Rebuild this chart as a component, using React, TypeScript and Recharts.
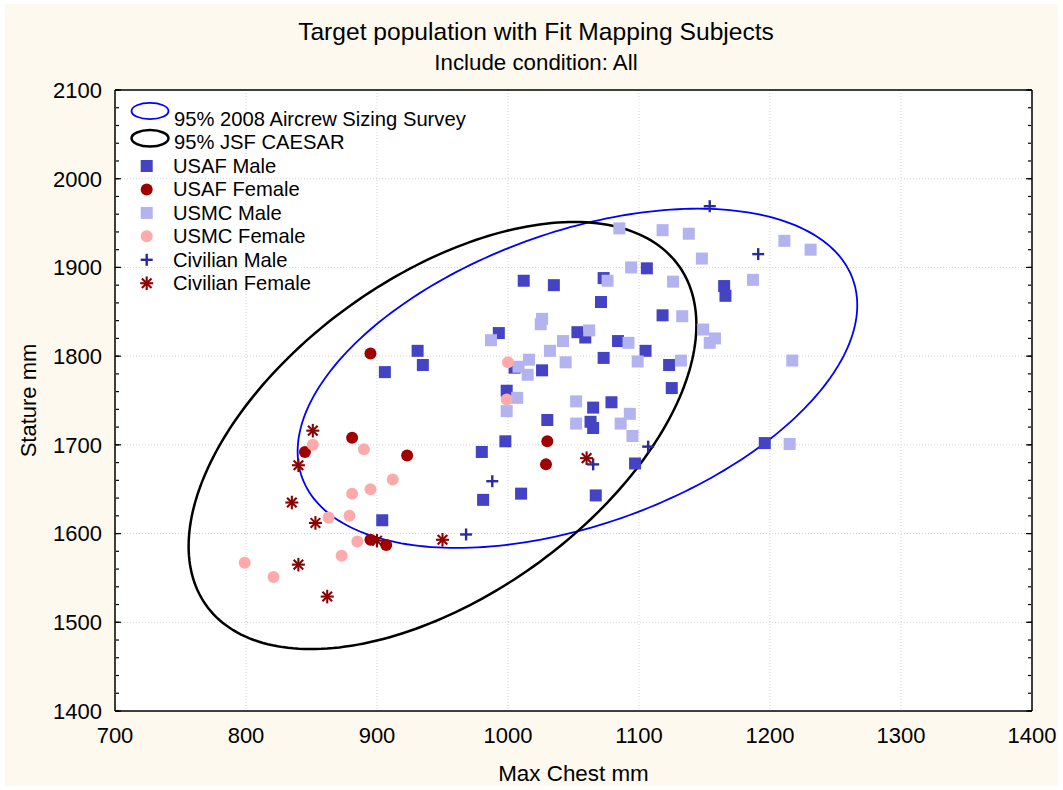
import React from 'react';
import { ComposedChart, Scatter, XAxis, YAxis, CartesianGrid } from 'recharts';

const FONT = '"Liberation Sans", Arial, Helvetica, sans-serif';

// Axis ticks
const xTicks = [700, 800, 900, 1000, 1100, 1200, 1300, 1400];
const yTicks = [1400, 1500, 1600, 1700, 1800, 1900, 2000, 2100];
const xMinorStep = 20;
const yMinorStep = 20;

// Subjects: [max chest mm, stature mm]
const usafMale: [number, number][] = [
  [931, 1806], [935, 1790], [906, 1782], [904, 1615], [993, 1826], [1012, 1885],
  [1035, 1880], [1073, 1888], [1071, 1861], [1106, 1899], [1118, 1846], [1165, 1879],
  [1166, 1868], [1053, 1827], [1059, 1821], [1084, 1817], [1105, 1806], [1073, 1798],
  [1123, 1790], [1125, 1764], [1026, 1784], [1005, 1787], [999, 1761], [1065, 1742],
  [1079, 1748], [1030, 1728], [1063, 1726], [1065, 1719], [998, 1704], [980, 1692],
  [1097, 1679], [1196, 1702], [1010, 1645], [981, 1638], [1067, 1643],
];

const usafFemale: [number, number][] = [
  [895, 1803], [881, 1708], [845, 1692], [923, 1688], [895, 1593], [907, 1587],
  [1030, 1704], [1029, 1678],
];

const usmcMale: [number, number][] = [
  [1085, 1944], [1118, 1942], [1138, 1938], [1211, 1930], [1231, 1920], [1148, 1910],
  [1094, 1900], [1076, 1885], [1126, 1884], [1187, 1886], [1026, 1842], [1025, 1836],
  [1133, 1845], [1149, 1830], [1158, 1820], [1154, 1815], [987, 1818], [1062, 1829],
  [1042, 1817], [1092, 1815], [1032, 1806], [1016, 1796], [1008, 1788], [1015, 1779],
  [1044, 1793], [1099, 1794], [1132, 1795], [1217, 1795], [1007, 1753], [999, 1738],
  [1052, 1749], [1093, 1735], [1052, 1724], [1086, 1724], [1095, 1710], [1215, 1701],
];

const usmcFemale: [number, number][] = [
  [851, 1700], [890, 1695], [912, 1661], [895, 1650], [881, 1645], [879, 1620],
  [863, 1618], [885, 1591], [873, 1575], [799, 1567], [821, 1551], [1000, 1793],
  [999, 1751],
];

const civilianMale: [number, number][] = [
  [1154, 1969], [1191, 1915], [1107, 1698], [1065, 1678], [988, 1659], [968, 1599],
];

const civilianFemale: [number, number][] = [
  [851, 1716], [840, 1677], [835, 1635], [853, 1612], [900, 1592], [840, 1565],
  [862, 1529], [950, 1593], [1060, 1685],
];

// 95% ellipses: centre, half-extent along each axis, and the cross term
const aircrewEllipse = { cx: 1053, cy: 1775, ex: 213.6, ey: 191.2, exy: 17608 };
const caesarEllipse = { cx: 950, cy: 1710.5, ex: 193.8, ey: 240.7, exy: 24178 };

type Ell = typeof aircrewEllipse;

function ellipseOutline(e: Ell, n = 240) {
  const l21 = e.exy / e.ex;
  const l22 = Math.sqrt(e.ey * e.ey - l21 * l21);
  const pts: { x: number; y: number }[] = [];
  for (let i = 0; i <= n; i++) {
    const t = (i / n) * Math.PI * 2;
    pts.push({
      x: e.cx + e.ex * Math.cos(t),
      y: e.cy + l21 * Math.cos(t) + l22 * Math.sin(t),
    });
  }
  return pts;
}

const toPoints = (arr: [number, number][]) => arr.map(([x, y]) => ({ x, y }));

const range = (from: number, to: number, step: number) => {
  const out: number[] = [];
  for (let v = from; v <= to + 1e-9; v += step) out.push(v);
  return out;
};

const xMinor = range(700, 1400, xMinorStep);
const yMinor = range(1400, 2100, yMinorStep);

const COLORS = {
  usafMale: '#4343C4',
  usafFemale: '#A00000',
  usmcMale: '#B3B3EF',
  usmcFemale: '#FFAAAA',
  civilianMale: '#2A2A9C',
  civilianFemale: '#8B0000',
};

type Kind = 'square' | 'circle' | 'plus' | 'star';

function Marker({ kind, color, cx, cy }: { kind: Kind; color: string; cx: number; cy: number }) {
  if (kind === 'square') return <rect x={cx - 6} y={cy - 6} width={12} height={12} fill={color} />;
  if (kind === 'circle') return <circle cx={cx} cy={cy} r={6} fill={color} />;
  if (kind === 'plus')
    return (
      <g stroke={color} strokeWidth={2.4}>
        <line x1={cx - 6} y1={cy} x2={cx + 6} y2={cy} />
        <line x1={cx} y1={cy - 6} x2={cx} y2={cy + 6} />
      </g>
    );
  const d = 4.8;
  return (
    <g stroke={color} strokeWidth={2.1}>
      <line x1={cx - 6.5} y1={cy} x2={cx + 6.5} y2={cy} />
      <line x1={cx} y1={cy - 6.8} x2={cx} y2={cy + 6.8} />
      <line x1={cx - d} y1={cy - d} x2={cx + d} y2={cy + d} />
      <line x1={cx - d} y1={cy + d} x2={cx + d} y2={cy - d} />
    </g>
  );
}

const series: { name: string; data: [number, number][]; kind: Kind; color: string }[] = [
  { name: 'USAF Male', data: usafMale, kind: 'square', color: COLORS.usafMale },
  { name: 'USAF Female', data: usafFemale, kind: 'circle', color: COLORS.usafFemale },
  { name: 'USMC Male', data: usmcMale, kind: 'square', color: COLORS.usmcMale },
  { name: 'USMC Female', data: usmcFemale, kind: 'circle', color: COLORS.usmcFemale },
  { name: 'Civilian Male', data: civilianMale, kind: 'plus', color: COLORS.civilianMale },
  { name: 'Civilian Female', data: civilianFemale, kind: 'star', color: COLORS.civilianFemale },
];

const ellipses = [
  { name: '95% 2008 Aircrew Sizing Survey', e: aircrewEllipse, color: '#0000FF', width: 1.8 },
  { name: '95% JSF CAESAR', e: caesarEllipse, color: '#000000', width: 2.5 },
];

const W = 1063;
const H = 790;
const frame = { stroke: '#000', strokeWidth: 1.5 };
const tickStroke = { stroke: '#000', strokeWidth: 1.2 };
const noLabel = () => <g />;

export default function App() {
  return (
    <div style={{ position: 'absolute', left: 0, top: 0, width: W, height: H, background: '#fff', fontFamily: FONT }}>
      <div style={{ position: 'absolute', left: 5, top: 4, right: 5, bottom: 4, background: '#FDF9EE' }} />
      <div style={{ position: 'absolute', left: 0, top: 0 }}>
        <ComposedChart width={W} height={H} margin={{ top: 90, right: 31, bottom: 39, left: 15 }}>
          <CartesianGrid
            xAxisId="x"
            yAxisId="y"
            fill="#FFFFFF"
            stroke="#D4D4D4"
            strokeDasharray="1 2"
          />
          <XAxis
            xAxisId="x"
            dataKey="x"
            type="number"
            domain={[700, 1400]}
            ticks={xTicks}
            interval={0}
            allowDataOverflow
            tickLine={false}
            axisLine={false}
            tickSize={0}
            tickMargin={16}
            height={40}
            tick={{ fontSize: 22, fill: '#000', fontFamily: FONT }}
          />
          <YAxis
            yAxisId="y"
            dataKey="y"
            type="number"
            domain={[1400, 2100]}
            ticks={yTicks}
            interval={0}
            allowDataOverflow
            tickLine={false}
            axisLine={false}
            tickSize={0}
            tickMargin={13}
            width={100}
            tick={{ fontSize: 22, fill: '#000', fontFamily: FONT }}
          />
          {/* inward tick marks and plot frame */}
          <XAxis xAxisId="bMaj" orientation="bottom" mirror type="number" domain={[700, 1400]} ticks={xTicks} interval={0} tick={noLabel} tickSize={6} height={1} axisLine={frame} tickLine={tickStroke} allowDataOverflow />
          <XAxis xAxisId="bMin" orientation="bottom" mirror type="number" domain={[700, 1400]} ticks={xMinor} interval={0} tick={noLabel} tickSize={3} height={1} axisLine={false} tickLine={tickStroke} allowDataOverflow />
          <XAxis xAxisId="tMaj" orientation="top" mirror type="number" domain={[700, 1400]} ticks={xTicks} interval={0} tick={noLabel} tickSize={6} height={1} axisLine={frame} tickLine={tickStroke} allowDataOverflow />
          <XAxis xAxisId="tMin" orientation="top" mirror type="number" domain={[700, 1400]} ticks={xMinor} interval={0} tick={noLabel} tickSize={3} height={1} axisLine={false} tickLine={tickStroke} allowDataOverflow />
          <YAxis yAxisId="lMaj" orientation="left" mirror type="number" domain={[1400, 2100]} ticks={yTicks} interval={0} tick={noLabel} tickSize={6} width={1} axisLine={frame} tickLine={tickStroke} allowDataOverflow />
          <YAxis yAxisId="lMin" orientation="left" mirror type="number" domain={[1400, 2100]} ticks={yMinor} interval={0} tick={noLabel} tickSize={3} width={1} axisLine={false} tickLine={tickStroke} allowDataOverflow />
          <YAxis yAxisId="rMaj" orientation="right" mirror type="number" domain={[1400, 2100]} ticks={yTicks} interval={0} tick={noLabel} tickSize={6} width={1} axisLine={frame} tickLine={tickStroke} allowDataOverflow />
          <YAxis yAxisId="rMin" orientation="right" mirror type="number" domain={[1400, 2100]} ticks={yMinor} interval={0} tick={noLabel} tickSize={3} width={1} axisLine={false} tickLine={tickStroke} allowDataOverflow />

          {ellipses.map((el) => (
            <Scatter
              key={el.name}
              name={el.name}
              xAxisId="x"
              yAxisId="y"
              data={ellipseOutline(el.e)}
              line={{ stroke: el.color, strokeWidth: el.width, fill: 'none' }}
              shape={() => <g />}
              isAnimationActive={false}
            />
          ))}
          {series.map((s) => (
            <Scatter
              key={s.name}
              name={s.name}
              xAxisId="x"
              yAxisId="y"
              data={toPoints(s.data)}
              fill={s.color}
              shape={(p: any) => <Marker kind={s.kind} color={s.color} cx={p.cx} cy={p.cy} />}
              isAnimationActive={false}
            />
          ))}
        </ComposedChart>
      </div>
      <svg width={W} height={H} style={{ position: 'absolute', left: 0, top: 0, pointerEvents: 'none' }} fontFamily={FONT}>
        <text x={536} y={40} fontSize={24.6} textAnchor="middle" fill="#000">
          Target population with Fit Mapping Subjects
        </text>
        <text x={536} y={70} fontSize={22.3} textAnchor="middle" fill="#000">
          Include condition: All
        </text>
        <text x={573.5} y={781} fontSize={22.4} textAnchor="middle" fill="#000">
          Max Chest mm
        </text>
        <text x={36} y={400.5} fontSize={22} textAnchor="middle" fill="#000" transform="rotate(-90 36 400.5)">
          Stature mm
        </text>
        {/* legend */}
        {ellipses.map((el, i) => (
          <g key={el.name}>
            <ellipse cx={150} cy={111 + i * 27.3} rx={18.5} ry={8.2} fill="none" stroke={el.color} strokeWidth={el.width} />
            <text x={174} y={119 + i * 23.3 + 7} fontSize={20.2} fill="#000">
              {el.name}
            </text>
          </g>
        ))}
        {series.map((s, i) => {
          const cy = 166 + i * 23.45;
          return (
            <g key={s.name}>
              <Marker kind={s.kind} color={s.color} cx={146.7} cy={cy} />
              <text x={173} y={cy + 7} fontSize={20.2} fill="#000">
                {s.name}
              </text>
            </g>
          );
        })}
      </svg>
    </div>
  );
}
